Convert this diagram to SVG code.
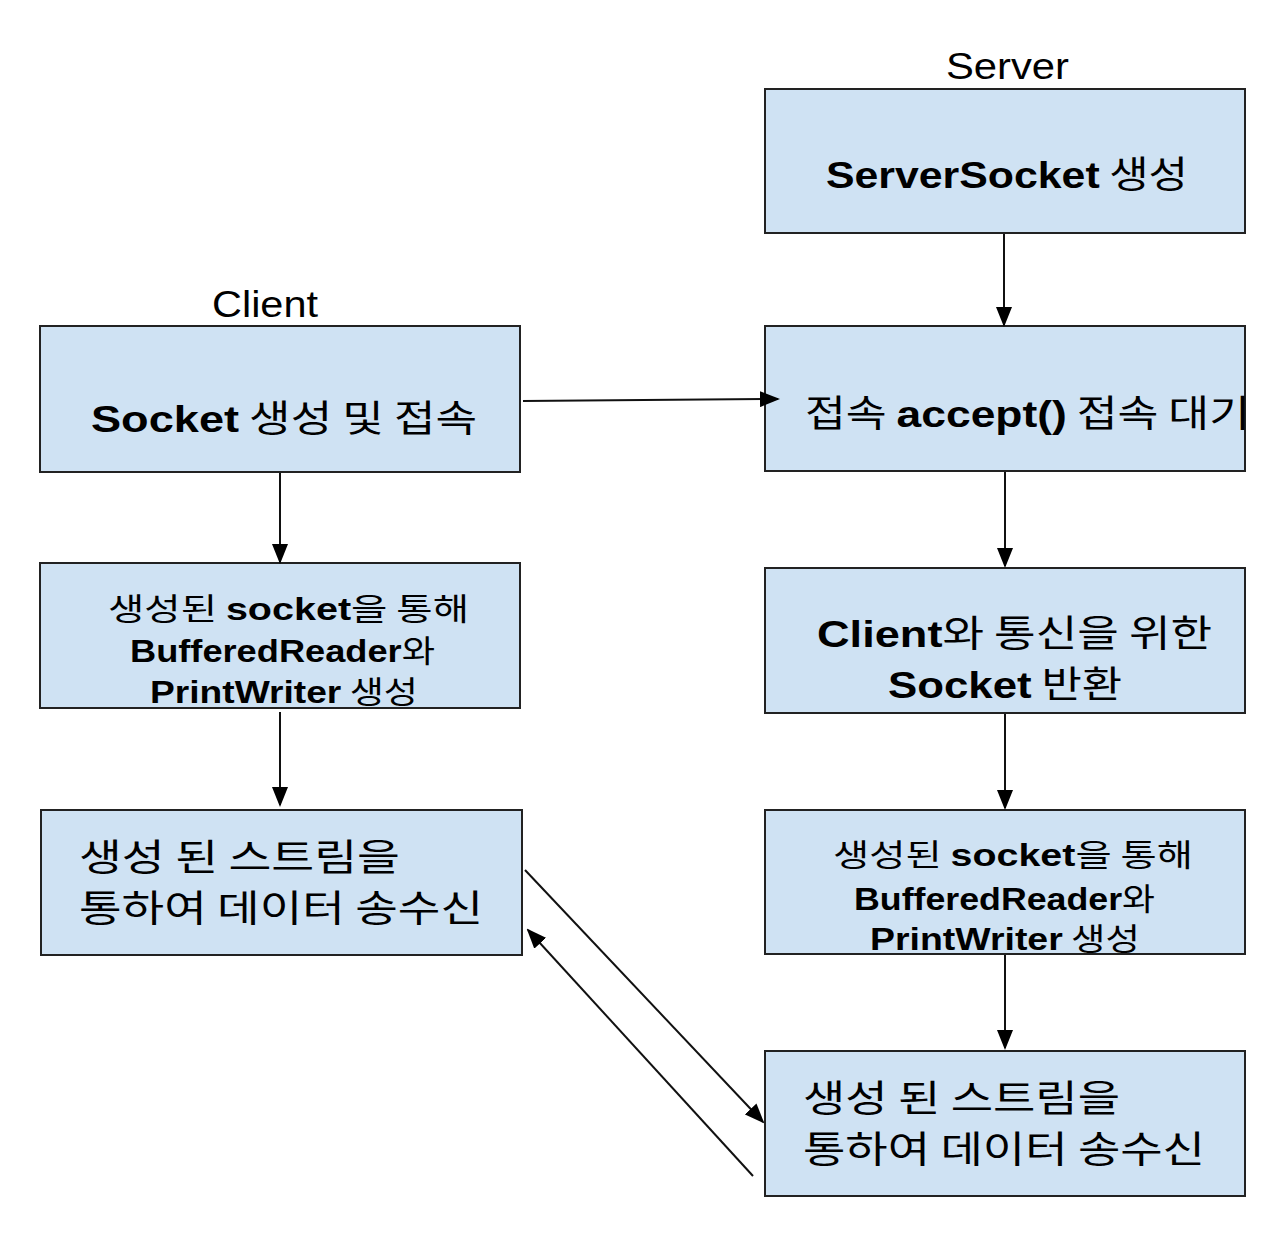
<svg xmlns="http://www.w3.org/2000/svg" width="1278" height="1254" viewBox="0 0 1278 1254">
<style>
.box{fill:#cfe2f3;stroke:#222;stroke-width:2}
.t{font-family:"Liberation Sans","Noto Sans CJK KR",sans-serif;fill:#000}
.b{font-weight:bold}
.k{font-family:"Noto Sans CJK KR","Liberation Sans",sans-serif;font-weight:normal}
.lg{font-size:37px}
.sm{font-size:31px}
.ttl{font-family:"Liberation Sans",sans-serif;font-size:37px;fill:#000}
.c{stroke:#111;stroke-width:2;fill:none;marker-end:url(#ah)}
</style>
<defs>
<marker id="ah" viewBox="0 0 20 16" refX="18" refY="8" markerWidth="20" markerHeight="16" markerUnits="userSpaceOnUse" orient="auto">
<path d="M0,0 L20,8 L0,16 z" fill="#000"/>
</marker>
</defs>
<rect width="1278" height="1254" fill="#fff"/>
<text class="ttl" x="946" y="79" textLength="123" lengthAdjust="spacingAndGlyphs">Server</text>
<text class="ttl" x="212" y="317" textLength="106" lengthAdjust="spacingAndGlyphs">Client</text>

<g id="server-socket">
<rect class="box" x="765" y="89" width="480" height="144"/>
<text class="t lg" x="826" y="188" textLength="362" lengthAdjust="spacingAndGlyphs"><tspan class="b">ServerSocket</tspan><tspan class="k"> 생성</tspan></text>
</g>
<g id="server-accept">
<rect class="box" x="765" y="326" width="480" height="145"/>
<text class="t lg" x="805" y="427" textLength="445" lengthAdjust="spacingAndGlyphs"><tspan class="k">접속 </tspan><tspan class="b">accept()</tspan><tspan class="k"> 접속 대기</tspan></text>
</g>
<g id="server-socket-return">
<rect class="box" x="765" y="568" width="480" height="145"/>
<text class="t lg" x="817" y="647" textLength="395" lengthAdjust="spacingAndGlyphs"><tspan class="b">Client</tspan><tspan class="k">와 통신을 위한</tspan></text>
<text class="t lg" x="888" y="698" textLength="234" lengthAdjust="spacingAndGlyphs"><tspan class="b">Socket</tspan><tspan class="k"> 반환</tspan></text>
</g>
<g id="server-streams">
<rect class="box" x="765" y="810" width="480" height="144"/>
<text class="t sm" x="833" y="866" textLength="360" lengthAdjust="spacingAndGlyphs"><tspan class="k">생성된 </tspan><tspan class="b">socket</tspan><tspan class="k">을 통해</tspan></text>
<text class="t sm" x="854" y="910" textLength="301" lengthAdjust="spacingAndGlyphs"><tspan class="b">BufferedReader</tspan><tspan class="k">와</tspan></text>
<text class="t sm" x="870" y="950" textLength="270" lengthAdjust="spacingAndGlyphs"><tspan class="b">PrintWriter</tspan><tspan class="k"> 생성</tspan></text>
</g>
<g id="server-data">
<rect class="box" x="765" y="1051" width="480" height="145"/>
<text class="t k lg" x="803" y="1112" textLength="317" lengthAdjust="spacingAndGlyphs">생성 된 스트림을</text>
<text class="t k lg" x="803" y="1163" textLength="402" lengthAdjust="spacingAndGlyphs">통하여 데이터 송수신</text>
</g>

<g id="client-socket">
<rect class="box" x="40" y="326" width="480" height="146"/>
<text class="t lg" x="91" y="432" textLength="386" lengthAdjust="spacingAndGlyphs"><tspan class="b">Socket</tspan><tspan class="k"> 생성 및 접속</tspan></text>
</g>
<g id="client-streams">
<rect class="box" x="40" y="563" width="480" height="145"/>
<text class="t sm" x="108" y="620" textLength="361" lengthAdjust="spacingAndGlyphs"><tspan class="k">생성된 </tspan><tspan class="b">socket</tspan><tspan class="k">을 통해</tspan></text>
<text class="t sm" x="130" y="662" textLength="305" lengthAdjust="spacingAndGlyphs"><tspan class="b">BufferedReader</tspan><tspan class="k">와</tspan></text>
<text class="t sm" x="150" y="703" textLength="268" lengthAdjust="spacingAndGlyphs"><tspan class="b">PrintWriter</tspan><tspan class="k"> 생성</tspan></text>
</g>
<g id="client-data">
<rect class="box" x="41" y="810" width="481" height="145"/>
<text class="t k lg" x="79" y="871" textLength="321" lengthAdjust="spacingAndGlyphs">생성 된 스트림을</text>
<text class="t k lg" x="79" y="922" textLength="404" lengthAdjust="spacingAndGlyphs">통하여 데이터 송수신</text>
</g>

<g id="connectors">
<line class="c" x1="1004" y1="234" x2="1004" y2="325"/>
<line class="c" x1="1005" y1="472" x2="1005" y2="566"/>
<line class="c" x1="1005" y1="714" x2="1005" y2="808"/>
<line class="c" x1="1005" y1="955" x2="1005" y2="1048"/>
<line class="c" x1="280" y1="473" x2="280" y2="562"/>
<line class="c" x1="280" y1="712" x2="280" y2="805"/>
<line class="c" x1="523" y1="401" x2="778" y2="399"/>
<line class="c" x1="525" y1="870" x2="763" y2="1122"/>
<line class="c" x1="753" y1="1176" x2="528" y2="930"/>
</g>
</svg>
